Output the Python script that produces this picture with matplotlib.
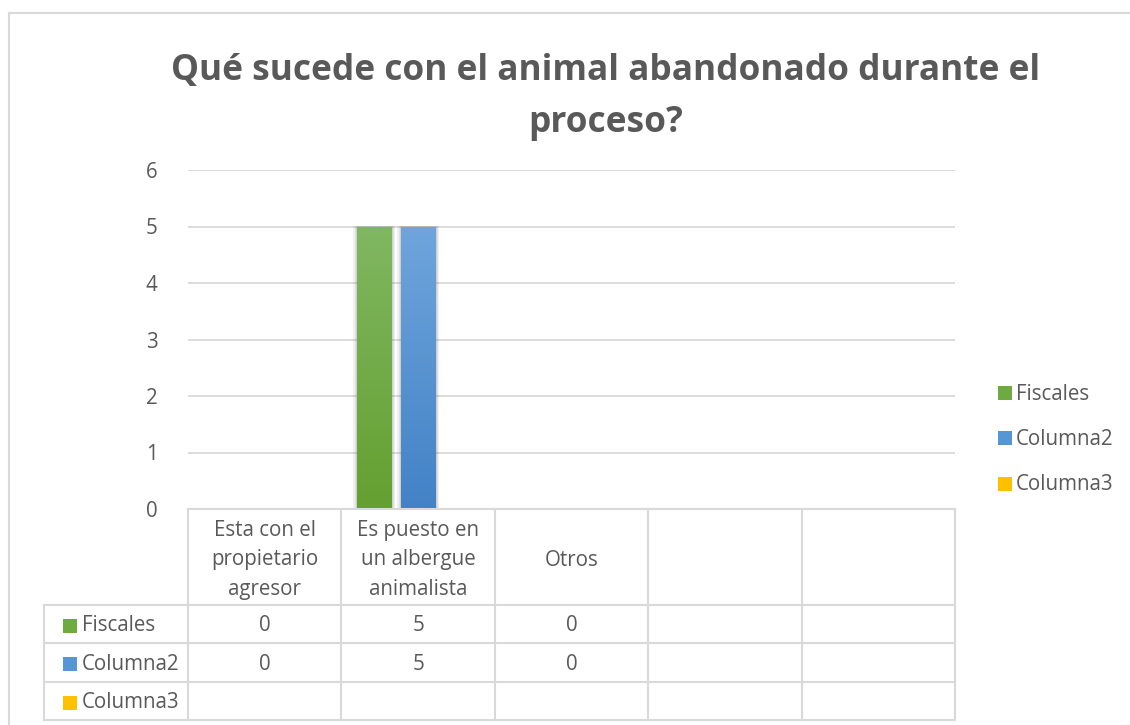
import matplotlib
matplotlib.use("Agg")
import matplotlib.pyplot as plt
import numpy as np
from matplotlib.patches import Rectangle
from matplotlib.colors import LinearSegmentedColormap

# ---- data ----
categories = ["Esta con el\npropietario\nagresor", "Es puesto en\nun albergue\nanimalista", "Otros", "", ""]
series_names = ["Fiscales", "Columna2", "Columna3"]
fiscales = [0, 5, 0, None, None]
columna2 = [0, 5, 0, None, None]
columna3 = [None, None, None, None, None]
series_values = [fiscales, columna2, columna3]
yticks = [0, 1, 2, 3, 4, 5, 6]
title = "Qué sucede con el animal abandonado durante el\nproceso?"

# ---- style ----
W, H = 1130, 725
TXT = "#595959"
GRID = "#D9D9D9"
FONT = ["Open Sans", "DejaVu Sans"]
FS = 14.8
colors_top = ["#80B762", "#6FA5DC", "#FFD14A"]
colors_bot = ["#64A030", "#4282C6", "#F0B400"]
colors_mid = ["#6DAA3F", "#5596D4", "#FFC000"]

fig = plt.figure(figsize=(W / 100, H / 100), dpi=100)
fig.patch.set_facecolor("white")

def fx(x):
    return x / W

def fy(y):
    return 1 - y / H

# chart border
fig.add_artist(plt.Line2D([fx(9), fx(9)], [fy(13), fy(H + 5)], color=GRID, lw=1.5))
fig.add_artist(plt.Line2D([fx(9), fx(W + 5)], [fy(13), fy(13)], color=GRID, lw=1.5))

# plot area
x0, x1 = 188, 955
ytop, ybot = 170, 509
ax = fig.add_axes([fx(x0), fy(ybot), fx(x1 - x0), (ybot - ytop) / H])
ax.set_xlim(0, len(categories))
ax.set_ylim(0, 6)
for s in ax.spines.values():
    s.set_visible(False)
ax.set_xticks([])
ax.set_yticks(yticks)
ax.set_yticklabels([str(t) for t in yticks], fontsize=FS, color=TXT, family=FONT)
ax.tick_params(axis="y", length=0, pad=22)
for t in yticks[1:]:
    ax.axhline(t, color=GRID, lw=1.3, zorder=0)

col_px = (x1 - x0) / len(categories)
bar_w = 35 / col_px
gap = 9 / col_px
sh = 3.5 / col_px
for si, vals in enumerate(series_values):
    offset = (si - 1) * (bar_w + gap)
    for ci, v in enumerate(vals):
        if v is None or v == 0:
            continue
        left = ci + 0.5 + offset - bar_w / 2
        for k, a in [(1.0, 0.10), (0.6, 0.12), (0.3, 0.15)]:
            ax.add_patch(Rectangle((left - sh * k, 0), bar_w + 2 * sh * k, v + 0.012 * k,
                                   facecolor="#707070", alpha=a, edgecolor="none", zorder=2))
        rect = Rectangle((left, 0), bar_w, v, facecolor=colors_mid[si], edgecolor="none", zorder=3)
        ax.add_patch(rect)
        cmap = LinearSegmentedColormap.from_list("g", [colors_bot[si], colors_top[si]])
        grad = np.linspace(0, 1, 256).reshape(-1, 1)
        im = ax.imshow(grad, extent=(left, left + bar_w, 0, v), origin="lower", cmap=cmap,
                       aspect="auto", zorder=4)
        im.set_clip_path(rect)
ax.set_xlim(0, len(categories))
ax.set_ylim(0, 6)

# title
fig.text(fx(606), fy(97), title, ha="center", va="center", fontsize=25.4, fontweight="bold",
         color=TXT, family=FONT, linespacing=1.58)

# data table
rows_y = [509, 605, 643, 682, 720]
tlw = 1.5
fig.add_artist(plt.Line2D([fx(x0), fx(x1)], [fy(rows_y[0])] * 2, color=GRID, lw=tlw))
for y in rows_y[1:]:
    fig.add_artist(plt.Line2D([fx(44), fx(x1)], [fy(y)] * 2, color=GRID, lw=tlw))
for i in range(len(categories) + 1):
    xx = x0 + i * col_px
    fig.add_artist(plt.Line2D([fx(xx)] * 2, [fy(rows_y[0]), fy(rows_y[-1])], color=GRID, lw=tlw))
fig.add_artist(plt.Line2D([fx(44)] * 2, [fy(rows_y[1]), fy(rows_y[-1])], color=GRID, lw=tlw))

for ci, cat in enumerate(categories):
    cx = x0 + (ci + 0.5) * col_px
    fig.text(fx(cx), fy((rows_y[0] + rows_y[1]) / 2 + 3), cat, ha="center", va="center",
             fontsize=FS, color=TXT, family=FONT, linespacing=1.55)

for si, name in enumerate(series_names):
    cy = (rows_y[si + 1] + rows_y[si + 2]) / 2 + 1.5
    fig.patches.append(Rectangle((fx(63), fy(cy + 7)), 14 / W, 14 / H, transform=fig.transFigure,
                                 facecolor=colors_mid[si], edgecolor="none", figure=fig))
    fig.text(fx(82), fy(cy), name, ha="left", va="center", fontsize=FS, color=TXT, family=FONT)
    for ci, v in enumerate(series_values[si]):
        if v is None:
            continue
        cx = x0 + (ci + 0.5) * col_px
        fig.text(fx(cx), fy(cy), str(v), ha="center", va="center", fontsize=FS, color=TXT, family=FONT)

# legend
leg_y = [393, 438, 484]
for si, name in enumerate(series_names):
    fig.patches.append(Rectangle((fx(998), fy(leg_y[si] + 7)), 14 / W, 14 / H, transform=fig.transFigure,
                                 facecolor=colors_mid[si], edgecolor="none", figure=fig))
    fig.text(fx(1016), fy(leg_y[si] + 1), name, ha="left", va="center", fontsize=FS, color=TXT, family=FONT)

fig.savefig("out.png", dpi=100, facecolor="white")
